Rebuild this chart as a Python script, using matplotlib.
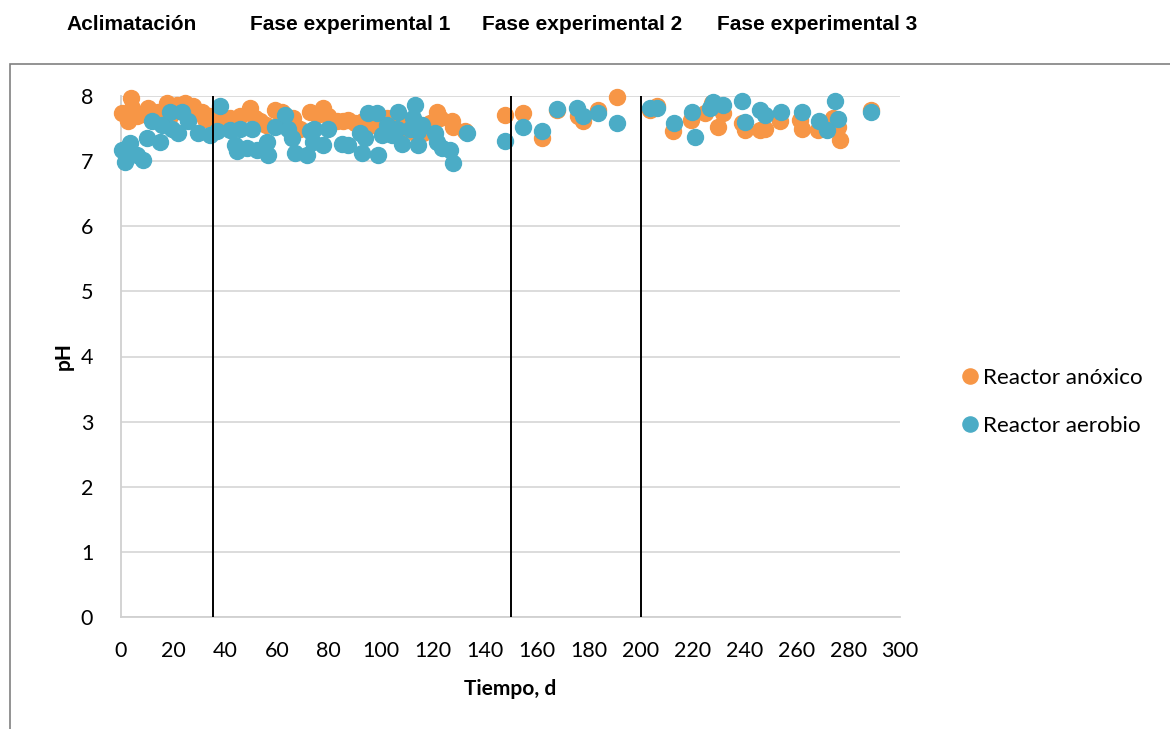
import matplotlib
matplotlib.use("Agg")
import matplotlib.pyplot as plt
from matplotlib.patches import Rectangle

# ---------------- data ----------------
anox_day = [0.3, 2.7, 3.7, 4.1, 6, 8.5, 10.5, 14.4, 17.6, 19, 21.4, 24.6, 26, 27.8, 31.1, 32.5, 34.3,
            36.2, 39, 42, 45.8, 49.7, 51.5, 53.5, 56, 59.3, 61.9, 64, 66.3, 68.9, 72.8, 75.4, 77.9, 79.8,
            83, 85.6, 87.5, 90, 93.3, 97.2, 99.5, 102.3, 104, 106.2, 108.5, 110, 113.2, 113.9, 116.4, 119,
            121.6, 122.8, 127.3, 128, 132.5,
            147.9, 154.9, 162, 167.8, 176.1, 178, 183.8, 190.9, 203.7, 206.3, 212.7, 219.7, 224.9, 227.5,
            230, 231.9, 239, 240.3, 246.1, 248, 253.8, 261.5, 262.1, 268.5, 274.3, 276.2, 276.9, 289]
anox_ph = [7.74, 7.61, 7.97, 7.81, 7.69, 7.72, 7.81, 7.76, 7.89, 7.70, 7.86, 7.89, 7.72, 7.84, 7.76, 7.65, 7.69,
           7.66, 7.62, 7.66, 7.69, 7.81, 7.66, 7.61, 7.55, 7.79, 7.76, 7.65, 7.66, 7.50, 7.76, 7.71, 7.81, 7.69,
           7.62, 7.61, 7.63, 7.58, 7.61, 7.56, 7.62, 7.66, 7.58, 7.61, 7.55, 7.50, 7.43, 7.46, 7.43, 7.58,
           7.76, 7.66, 7.61, 7.53, 7.46,
           7.71, 7.74, 7.35, 7.79, 7.69, 7.61, 7.79, 7.98, 7.79, 7.84, 7.46, 7.63, 7.74, 7.89,
           7.53, 7.74, 7.58, 7.48, 7.48, 7.50, 7.61, 7.63, 7.50, 7.48, 7.66, 7.53, 7.33, 7.79]

aer_day = [0.3, 1.5, 3.5, 6, 8.6, 9.9, 11.8, 15, 15.7, 18.9, 19.5, 22, 23.4, 25.9, 29.8, 34.3,
           36.8, 38.1, 42, 43.9, 44.5, 45.8, 48.4, 50.3, 52.3, 56.1, 56.7, 59.3, 63.1, 64.4, 65.7, 67,
           71.5, 72.8, 74, 74.5, 77.9, 79.8, 85, 87.5, 92, 92.7, 94, 95.2, 98.4, 99, 100.4, 102.3, 104.2,
           106.2, 106.8, 108.1, 111.3, 112.6, 113.2, 114.5, 114.5, 115.8, 120.9, 121.6, 123.5, 126.7, 128, 133.1,
           147.9, 154.9, 162, 167.8, 175.7, 178, 183.8, 190.9, 203.7, 206.3, 213, 220, 221, 226.8, 228,
           231.9, 239, 240.3, 246.1, 248, 254, 262.1, 268.9, 271.7, 274.9, 276.2, 289]
aer_ph = [7.17, 6.99, 7.28, 7.10, 7.02, 7.35, 7.61, 7.30, 7.56, 7.76, 7.50, 7.43, 7.76, 7.61, 7.43, 7.40,
          7.46, 7.84, 7.48, 7.25, 7.15, 7.50, 7.20, 7.50, 7.17, 7.30, 7.10, 7.53, 7.71, 7.50, 7.35, 7.12,
          7.10, 7.46, 7.30, 7.50, 7.25, 7.50, 7.27, 7.25, 7.43, 7.12, 7.35, 7.74, 7.74, 7.10, 7.40, 7.56, 7.40,
          7.50, 7.76, 7.27, 7.50, 7.66, 7.86, 7.46, 7.25, 7.56, 7.43, 7.30, 7.20, 7.17, 6.97, 7.43,
          7.31, 7.52, 7.47, 7.80, 7.81, 7.69, 7.74, 7.58, 7.81, 7.81, 7.58, 7.76, 7.37, 7.81, 7.91,
          7.86, 7.93, 7.60, 7.79, 7.71, 7.75, 7.75, 7.62, 7.48, 7.92, 7.64, 7.76]

phase_bounds = [35.5, 150.2, 200.2]
phase_labels = ["Aclimatación", "Fase experimental 1", "Fase experimental 2", "Fase experimental 3"]
series_labels = ["Reactor anóxico", "Reactor aerobio"]
x_ticks = list(range(0, 301, 20))
y_ticks = list(range(0, 9))

# ---------------- figure ----------------
W, H = 1170, 729
fig = plt.figure(figsize=(W / 100, H / 100), dpi=100)
ax = fig.add_axes([121 / W, 1 - 617 / H, (900 - 121) / W, (617 - 96) / H])

orange = "#F79646"
blue = "#4BACC6"
ax.plot(anox_day, anox_ph, "o", ms=11.5, color=orange, mec=orange, label=series_labels[0],
        zorder=3, clip_on=False)
ax.plot(aer_day, aer_ph, "o", ms=11.5, color=blue, mec=blue, label=series_labels[1],
        zorder=4, clip_on=False)

for b in phase_bounds:
    ax.axvline(b, color="black", lw=1.4, zorder=5)

ax.set_xlim(0, 300)
ax.set_ylim(0, 8)
ax.set_xticks(x_ticks)
ax.set_yticks(y_ticks)
ax.grid(axis="y", color="#d9d9d9", lw=1.3, zorder=0)
ax.set_axisbelow(True)
for s in ["top", "right"]:
    ax.spines[s].set_visible(False)
ax.spines["left"].set_color("#d0d0d0")
ax.spines["bottom"].set_color("#d0d0d0")
ax.spines["left"].set_linewidth(1.3)
ax.spines["bottom"].set_linewidth(1.3)
ax.tick_params(length=0, labelsize=15.5)
ax.tick_params(axis="x", pad=17)
ax.tick_params(axis="y", pad=20)
for lab in ax.get_xticklabels() + ax.get_yticklabels():
    lab.set_fontfamily("Lato")

ax.set_xlabel("Tiempo, d", fontsize=15, fontweight="bold", family="Lato", labelpad=13)
ax.set_ylabel("pH", fontsize=15, fontweight="bold", family="Lato", labelpad=5)

leg = fig.legend(loc="center left", bbox_to_anchor=(936 / W, 1 - 402 / H), frameon=False,
                 prop={"family": "Lato", "size": 16.2}, handletextpad=0.0, labelspacing=1.22,
                 handlelength=1.2, markerscale=0.95)

# frame of chart area
fig.patches.append(Rectangle((10 / W, -0.1), 1.2, 1 - 64 / H + 0.1, transform=fig.transFigure,
                             fill=False, edgecolor="#808080", lw=1.2))

# phase titles
title_x = [132, 350, 582, 817]
for lbl, xc in zip(phase_labels, title_x):
    fig.text(xc / W, 1 - 25 / H, lbl, ha="center", va="center", fontsize=15,
             fontweight="bold", family="Liberation Sans")

fig.savefig("out.png", dpi=100)
